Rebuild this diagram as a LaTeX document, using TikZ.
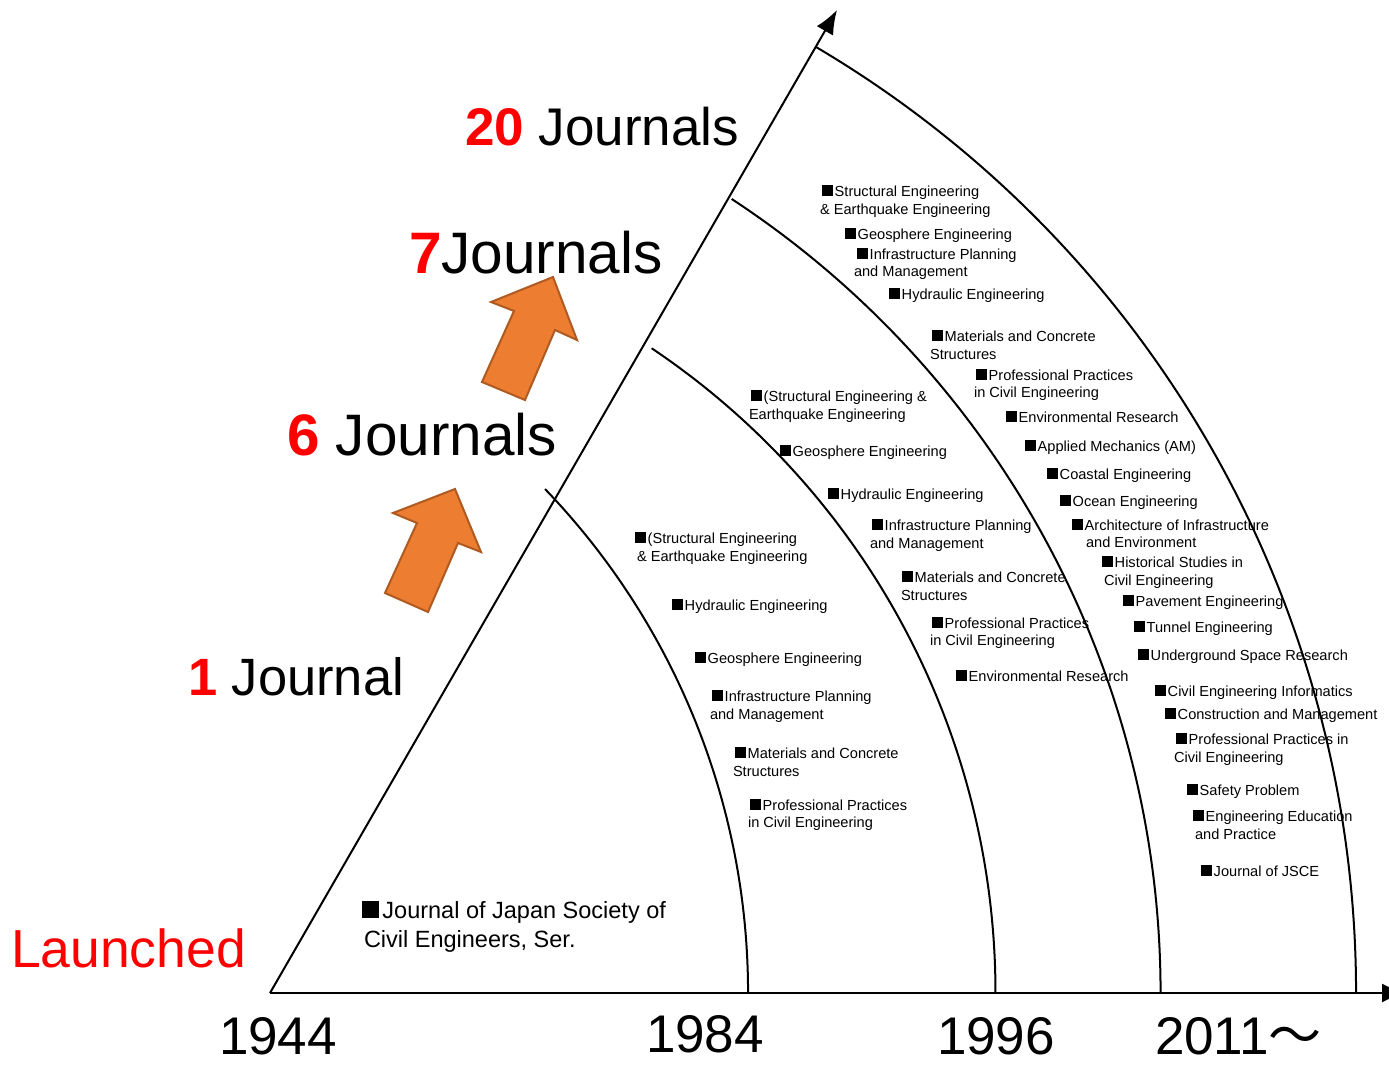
\documentclass[tikz,border=0pt]{standalone}
\usepackage{fontspec}
\setmainfont{Liberation Sans}
\newfontfamily\cjkfont{Noto Sans CJK JP}
\usetikzlibrary{arrows.meta}
\definecolor{orangefill}{HTML}{ED7D31}
\definecolor{orangedraw}{HTML}{AE5A21}
\definecolor{redtxt}{HTML}{FF0000}
\newcommand\bsq{\rule{0.72em}{0.72em}\hspace{0.15em}}
\tikzset{
  lbl/.style={anchor=base west, inner sep=0pt, outer sep=0pt, font=\fontsize{14.6}{17}\selectfont},
  lblbig/.style={anchor=base west, inner sep=0pt, outer sep=0pt, font=\fontsize{23.5}{28}\selectfont},
  bigtxt/.style={anchor=base west, inner sep=0pt, outer sep=0pt},
  yeartxt/.style={anchor=base west, inner sep=0pt, outer sep=0pt, text depth=0pt, font=\fontsize{53}{58}\selectfont},
  axisline/.style={line width=2pt, black},
  arcline/.style={line width=2pt, black},
  blockarrow/.style={fill=orangefill, draw=orangedraw, line width=2pt, line join=miter},
}
\begin{document}
\begin{tikzpicture}[x=1pt, y=-1pt]
\useasboundingbox (0,0) rectangle (1389,1065);
\clip (0,0) rectangle (1389,1065);
% axes
\coordinate (O) at (270,993);
\coordinate (Ytip) at (837,10);
\coordinate (Xtip) at (1406,993);
\draw[axisline, -{Latex[length=24pt, width=19pt]}] (O) -- (Ytip);
\draw[axisline, -{Latex[length=24pt, width=19pt]}] (O) -- (Xtip);
% era arcs
\draw[arcline] (545,489) arc[start angle=43.88, end angle=0, radius=727.2pt];
\draw[arcline] (651.7,348.3) arc[start angle=56.13, end angle=0, radius=776.5pt];
\draw[arcline] (731.7,199) arc[start angle=56.74, end angle=0, radius=949.7pt];
\draw[arcline] (816,47) arc[start angle=59.44, end angle=0, radius=1098.6pt];
% block arrows
\draw[blockarrow] (385,593) -- (428,612) -- (458,543) -- (481,552) -- (455,489) -- (393,513) -- (417,523) -- cycle;
\draw[blockarrow] (482,382) -- (525,400) -- (555,330) -- (577,340) -- (553,277) -- (491,302) -- (514,311) -- cycle;
% big labels
\node[bigtxt, font=\fontsize{53}{60}\selectfont] (n20) at (465,145) {\textcolor{redtxt}{\bfseries 20} Journals};
\node[bigtxt, font=\fontsize{58.5}{64}\selectfont] (n7) at (409,273) {\textcolor{redtxt}{\bfseries 7}Journals};
\node[bigtxt, font=\fontsize{58.5}{64}\selectfont] (n6) at (287,455) {\textcolor{redtxt}{\bfseries 6} Journals};
\node[bigtxt, font=\fontsize{52.5}{60}\selectfont] (n1) at (188,695) {\textcolor{redtxt}{\bfseries 1} Journal};
\node[bigtxt, font=\fontsize{53.5}{60}\selectfont, text=redtxt] (launch) at (11,967) {Launched};
% years
\node[yeartxt] (y1944) at (219,1054) {1944};
\node[yeartxt] (y1984) at (646,1052) {1984};
\node[yeartxt] (y1996) at (937,1054) {1996};
\node[yeartxt] (y2011) at (1155,1054) {2011{\cjkfont ～}};
% launched journal
\node[lblbig] (j0a) at (362,918) {\bsq Journal of Japan Society of};
\node[lblbig] (j0b) at (364,947) {Civil Engineers, Ser.};
% 1984 era
\node[lbl] (a1) at (635,543) {\bsq(Structural Engineering};
\node[lbl] (a1b) at (637,561) {\& Earthquake Engineering};
\node[lbl] (a2) at (672,610) {\bsq Hydraulic Engineering};
\node[lbl] (a3) at (695,663) {\bsq Geosphere Engineering};
\node[lbl] (a4) at (712,701) {\bsq Infrastructure Planning};
\node[lbl] (a4b) at (710,719) {and Management};
\node[lbl] (a5) at (735,758) {\bsq Materials and Concrete};
\node[lbl] (a5b) at (733,776) {Structures};
\node[lbl] (a6) at (750,810) {\bsq Professional Practices};
\node[lbl] (a6b) at (748,827) {in Civil Engineering};
% 1996 era
\node[lbl] (b1) at (751,401) {\bsq(Structural Engineering \&};
\node[lbl] (b1b) at (749,419) {Earthquake Engineering};
\node[lbl] (b2) at (780,456) {\bsq Geosphere Engineering};
\node[lbl] (b3) at (828,499) {\bsq Hydraulic Engineering};
\node[lbl] (b4) at (872,530) {\bsq Infrastructure Planning};
\node[lbl] (b4b) at (870,548) {and Management};
\node[lbl] (b5) at (902,582) {\bsq Materials and Concrete};
\node[lbl] (b5b) at (901,600) {Structures};
\node[lbl] (b6) at (932,628) {\bsq Professional Practices};
\node[lbl] (b6b) at (930,645) {in Civil Engineering};
\node[lbl] (b7) at (956,681) {\bsq Environmental Research};
% 2011 era
\node[lbl] (c1) at (822,196) {\bsq Structural Engineering};
\node[lbl] (c1b) at (820,214) {\& Earthquake Engineering};
\node[lbl] (c2) at (845,239) {\bsq Geosphere Engineering};
\node[lbl] (c3) at (857,259) {\bsq Infrastructure Planning};
\node[lbl] (c3b) at (854,276) {and Management};
\node[lbl] (c4) at (889,299) {\bsq Hydraulic Engineering};
\node[lbl] (c5) at (932,341) {\bsq Materials and Concrete};
\node[lbl] (c5b) at (930,359) {Structures};
\node[lbl] (c6) at (976,380) {\bsq Professional Practices};
\node[lbl] (c6b) at (974,397) {in Civil Engineering};
\node[lbl] (c7) at (1006,422) {\bsq Environmental Research};
\node[lbl] (c8) at (1025,451) {\bsq Applied Mechanics (AM)};
\node[lbl] (c9) at (1047,479) {\bsq Coastal Engineering};
\node[lbl] (c10) at (1060,506) {\bsq Ocean Engineering};
\node[lbl] (c11) at (1072,530) {\bsq Architecture of Infrastructure};
\node[lbl] (c11b) at (1086,547) {and Environment};
\node[lbl] (c12) at (1102,567) {\bsq Historical Studies in};
\node[lbl] (c12b) at (1104,585) {Civil Engineering};
\node[lbl] (c13) at (1123,606) {\bsq Pavement Engineering};
\node[lbl] (c14) at (1134,632) {\bsq Tunnel Engineering};
\node[lbl] (c15) at (1138,660) {\bsq Underground Space Research};
\node[lbl] (c16) at (1155,696) {\bsq Civil Engineering Informatics};
\node[lbl] (c17) at (1165,719) {\bsq Construction and Management};
\node[lbl] (c18) at (1176,744) {\bsq Professional Practices in};
\node[lbl] (c18b) at (1174,762) {Civil Engineering};
\node[lbl] (c19) at (1187,795) {\bsq Safety Problem};
\node[lbl] (c20) at (1193,821) {\bsq Engineering Education};
\node[lbl] (c20b) at (1195,839) {and Practice};
\node[lbl] (c21) at (1201,876) {\bsq Journal of JSCE};
\end{tikzpicture}
\end{document}
